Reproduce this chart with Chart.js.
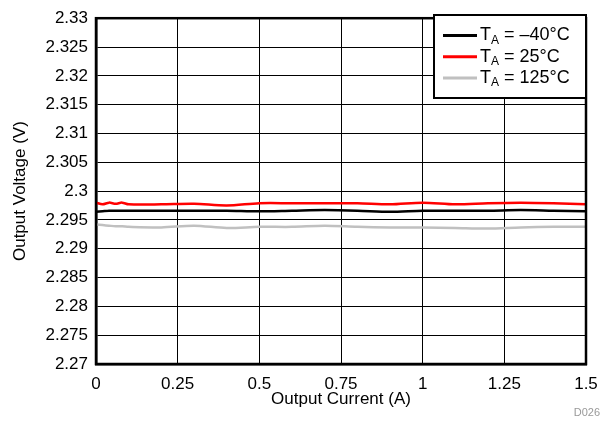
<!DOCTYPE html>
<html>
<head>
<meta charset="utf-8">
<script src="https://cdn.jsdelivr.net/npm/chart.js@4.4.1/dist/chart.umd.min.js"></script>
<style>
  html, body { margin: 0; padding: 0; background: #fff; }
  #wrap { width: 613px; height: 422px; position: relative; }
</style>
</head>
<body>
<div id="wrap"><canvas id="vout"></canvas></div>
<script>
// output current (A)
const currents = [0, 0.02, 0.04, 0.06, 0.08, 0.1, 0.2, 0.3, 0.4, 0.5, 0.6, 0.7, 0.8, 0.9, 1.0, 1.1, 1.2, 1.3, 1.4, 1.5];
// output voltage (V) per temperature
const vMinus40 = [2.2964, 2.2965, 2.2966, 2.2966, 2.2966, 2.2966, 2.2966, 2.2966, 2.2966, 2.2965, 2.2966, 2.2967, 2.2966, 2.2964, 2.2966, 2.2966, 2.2966, 2.2967, 2.2966, 2.2965];
const v25 = [2.2980, 2.2977, 2.2980, 2.2978, 2.2980, 2.2977, 2.2977, 2.2978, 2.2975, 2.2979, 2.2979, 2.2979, 2.2979, 2.2977, 2.2980, 2.2977, 2.2979, 2.2980, 2.2979, 2.2977];
const v125 = [2.2942, 2.2941, 2.2940, 2.2939, 2.2939, 2.2938, 2.2937, 2.2940, 2.2936, 2.2938, 2.2938, 2.2940, 2.2938, 2.2937, 2.2937, 2.2936, 2.2935, 2.2937, 2.2938, 2.2938];

const xTicks = [0, 0.25, 0.5, 0.75, 1, 1.25, 1.5];
const yMin = 2.27, yMax = 2.33, yStep = 0.005;

const legendItems = [
  { sub: 'A', text: ' = \u201340\u00b0C', color: '#000000' },
  { sub: 'A', text: ' = 25\u00b0C', color: '#ff0000' },
  { sub: 'A', text: ' = 125\u00b0C', color: '#c0c0c0' },
];

const FONT = 'Liberation Sans, Arial, Helvetica, sans-serif';

const pts = (ys) => currents.map((x, i) => ({ x: x, y: ys[i] }));

// frame, legend box and figure id
const decor = {
  id: 'decor',
  afterDraw(chart) {
    const { ctx, chartArea: a } = chart;
    ctx.save();
    ctx.strokeStyle = '#000';
    ctx.lineWidth = 2.5;
    ctx.strokeRect(a.left, a.top, a.right - a.left, a.bottom - a.top);

    // legend
    const bx = 434, by = 15, bw = 152, bh = 83;
    ctx.fillStyle = '#fff';
    ctx.fillRect(bx, by, bw, bh);
    ctx.lineWidth = 2;
    ctx.strokeRect(bx, by, bw, bh);
    legendItems.forEach((it, i) => {
      const y = 35.5 + i * 21.3;
      ctx.strokeStyle = it.color;
      ctx.lineWidth = 3;
      ctx.beginPath();
      ctx.moveTo(443, y);
      ctx.lineTo(477, y);
      ctx.stroke();
      ctx.fillStyle = '#000';
      ctx.textBaseline = 'middle';
      ctx.textAlign = 'left';
      ctx.font = '18px ' + FONT;
      ctx.fillText('T', 480, y);
      let x = 480 + ctx.measureText('T').width;
      ctx.font = '12px ' + FONT;
      ctx.fillText(it.sub, x, y + 5);
      x += ctx.measureText(it.sub).width;
      ctx.font = '18px ' + FONT;
      ctx.fillText(it.text, x, y);
    });

    ctx.fillStyle = '#999';
    ctx.font = '11px ' + FONT;
    ctx.textAlign = 'right';
    ctx.textBaseline = 'middle';
    ctx.fillText('D026', 600, 413);
    ctx.restore();
  }
};

new Chart(document.getElementById('vout'), {
  type: 'line',
  data: {
    datasets: [
      { label: 'TA = -40°C', data: pts(vMinus40), borderColor: '#000000', borderWidth: 2.5, pointRadius: 0, tension: 0.3 },
      { label: 'TA = 25°C', data: pts(v25), borderColor: '#ff0000', borderWidth: 2.5, pointRadius: 0, tension: 0.3 },
      { label: 'TA = 125°C', data: pts(v125), borderColor: '#c0c0c0', borderWidth: 2.5, pointRadius: 0, tension: 0.3 },
    ]
  },
  options: {
    responsive: true,
    maintainAspectRatio: false,
    animation: false,
    layout: { padding: { top: 14, right: 27, bottom: 0, left: 0 } },
    plugins: { legend: { display: false }, tooltip: { enabled: false } },
    scales: {
      x: {
        type: 'linear',
        min: 0,
        max: 1.5,
        afterBuildTicks: (s) => { s.ticks = xTicks.map(v => ({ value: v })); },
        afterFit: (s) => { s.height = 58; },
        grid: { color: '#000', lineWidth: 1, drawTicks: false },
        border: { color: '#000', width: 2.5 },
        ticks: { color: '#000', padding: 10, font: { family: FONT, size: 17 }, maxRotation: 0, callback: (v) => String(v) },
        title: { display: true, text: 'Output Current (A)', color: '#000', font: { family: FONT, size: 17 }, padding: { top: 0, bottom: 12 } }
      },
      y: {
        min: yMin,
        max: yMax,
        ticks: { stepSize: yStep, color: '#000', padding: 8, font: { family: FONT, size: 17 }, callback: (v) => String(+v.toFixed(3)) },
        afterFit: (s) => { s.width = 96; },
        grid: { color: '#000', lineWidth: 1, drawTicks: false },
        border: { color: '#000', width: 2.5 },
        title: { display: true, text: 'Output Voltage (V)', color: '#000', font: { family: FONT, size: 17 }, padding: { top: 10, bottom: 0 } }
      }
    }
  },
  plugins: [decor]
});
</script>
</body>
</html>
